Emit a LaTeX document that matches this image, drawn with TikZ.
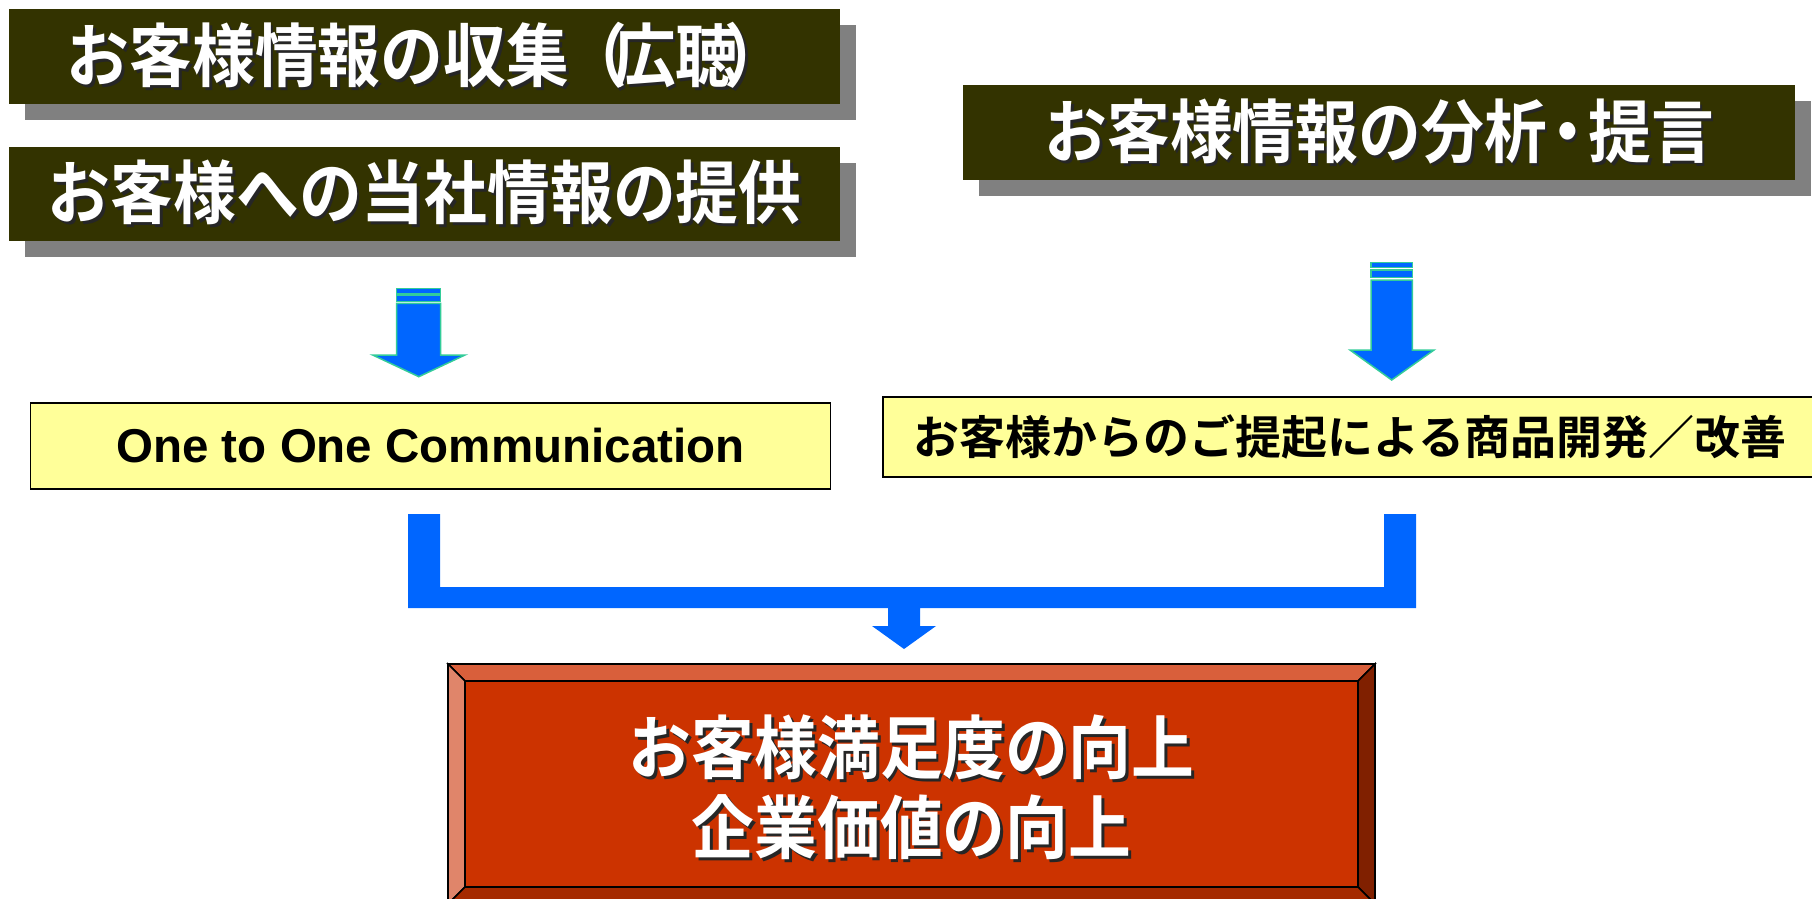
\documentclass[tikz,border=0pt]{standalone}
\usepackage{fontspec}
\usepackage{graphicx}
\usetikzlibrary{shadows}
\newfontfamily\jpb{Noto Sans CJK JP Bold}
\newfontfamily\latb{Liberation Sans Bold}
\definecolor{darkol}{HTML}{333300}
\definecolor{shgray}{HTML}{808080}
\definecolor{ylw}{HTML}{FFFF99}
\definecolor{arrblue}{HTML}{0066FF}
\definecolor{arrteal}{HTML}{33CC99}
\definecolor{redface}{HTML}{CC3300}
\definecolor{redtop}{HTML}{D95F3B}
\definecolor{redleft}{HTML}{E0856A}
\definecolor{redright}{HTML}{802000}
\definecolor{redbottom}{HTML}{A52A00}
\newcommand\shtxt[1]{\scalebox{0.91}[1]{\makebox[0pt][l]{\hspace{3pt}\raisebox{-3pt}{\color{black!85}#1}}#1}}
\tikzset{
  darkbox/.style={fill=darkol, draw=none, inner sep=0pt, anchor=north west, text=white,
    drop shadow={shadow xshift=16pt, shadow yshift=-16pt, fill=shgray, opacity=1},
    font=\jpb\fontsize{69}{78}\selectfont},
  ylwbox/.style={fill=ylw, draw=black, line width=1.5pt, inner sep=0pt, anchor=north west},
  blockarrow/.style={fill=arrblue, draw=arrteal, line width=1.5pt, line join=miter},
  bevel/.style={draw=black, line width=1.5pt, line join=miter},
}
\begin{document}
\begin{tikzpicture}[x=1pt,y=-1pt]
\useasboundingbox (0,0) rectangle (1812,899);
\clip (0,0) rectangle (1812,899);

% dark header boxes
\node[darkbox, minimum width=831pt, minimum height=95pt] (b1) at (9,9) {\shtxt{お客様情報の収集\kern-0.08em（\kern-0.22em広聴\kern-0.22em）\kern-0.08em}};
\node[darkbox, minimum width=831pt, minimum height=94pt] (b2) at (9,147) {\shtxt{お客様への当社情報の提供}};
\node[darkbox, minimum width=832pt, minimum height=95pt] (b3) at (963,85) {\shtxt{お客様情報の分析\kern-0.17em・\kern-0.17em提言}};

% yellow boxes
\node[ylwbox, minimum width=800pt, minimum height=86pt, font=\latb\fontsize{47.5}{54}\selectfont] (y1) at (29.7,402) {One to One Communication};
\node[ylwbox, minimum width=935pt, minimum height=80pt, font=\jpb\fontsize{46}{54}\selectfont] (y2) at (882,396) {お客様からのご提起による商品開発／改善};

% block arrows
\draw[blockarrow] (396.7,288.3) rectangle (440.7,293.5);
\draw[blockarrow] (396.7,295.0) rectangle (440.7,301.7);
\draw[blockarrow] (396.7,303.3) -- (440.7,303.3) -- (440.7,355) -- (465,355) -- (418.8,376.7) -- (372.7,355) -- (396.7,355) -- cycle;

\draw[blockarrow] (1371,262.3) rectangle (1412.3,267.5);
\draw[blockarrow] (1371,270) rectangle (1412.3,277.7);
\draw[blockarrow] (1371,280) -- (1412.3,280) -- (1412.3,350) -- (1434,350) -- (1391.7,380) -- (1350,350) -- (1371,350) -- cycle;

% joining connector
\coordinate (cl) at (408,514);
\coordinate (cr) at (1416,514);
\fill[arrblue] (cl) -- (440,514) -- (440,587) -- (1384,587) -- (1384,514) -- (cr) -- (1416,608)
  -- (920,608) -- (920,626) -- (936,626) -- (904,649) -- (872,626) -- (888,626) -- (888,608) -- (408,608) -- cycle;

% bevelled result box
\coordinate (ro1) at (448,664);
\coordinate (ro2) at (1375,904);
\coordinate (ri1) at (465,681);
\coordinate (ri2) at (1358,887);
\fill[redface] (ri1) rectangle (ri2);
\draw[bevel, fill=redtop] (448,664) -- (1375,664) -- (1358,681) -- (465,681) -- cycle;
\draw[bevel, fill=redleft] (448,664) -- (465,681) -- (465,887) -- (448,904) -- cycle;
\draw[bevel, fill=redright] (1375,664) -- (1375,904) -- (1358,887) -- (1358,681) -- cycle;
\draw[bevel, fill=redbottom] (448,904) -- (465,887) -- (1358,887) -- (1375,904) -- cycle;
\draw[bevel] (ri1) rectangle (ri2);
\draw[bevel] (ro1) rectangle (ro2);
\node[text=white, font=\jpb\fontsize{69}{80}\selectfont, align=center, inner sep=0pt] (r) at (911.5,789)
  {\shtxt{お客様満足度の向上}\\\shtxt{企業価値の向上}};
\end{tikzpicture}
\end{document}
